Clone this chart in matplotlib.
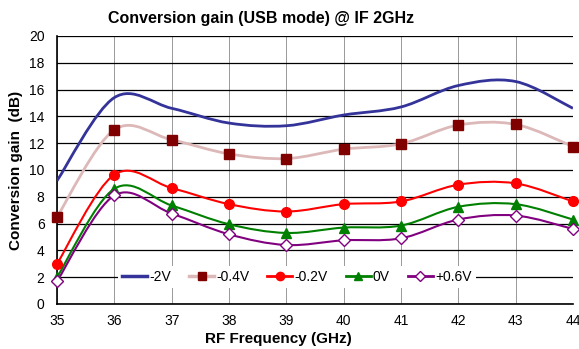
import matplotlib
matplotlib.use('Agg')
import matplotlib.pyplot as plt
from matplotlib.path import Path
from matplotlib.patches import PathPatch
from matplotlib.lines import Line2D
import numpy as np

plt.rcParams['font.family'] = ['Liberation Sans', 'DejaVu Sans']

freq = [35, 36, 37, 38, 39, 40, 41, 42, 43, 44]
gain_m2v = [9.2, 15.4, 14.6, 13.5, 13.3, 14.1, 14.7, 16.3, 16.6, 14.6]
gain_m04v = [6.5, 13.0, 12.25, 11.2, 10.85, 11.55, 11.95, 13.35, 13.4, 11.75]
gain_m02v = [3.0, 9.65, 8.65, 7.45, 6.9, 7.45, 7.65, 8.9, 9.0, 7.65]
gain_0v = [2.0, 8.6, 7.35, 5.95, 5.3, 5.7, 5.85, 7.25, 7.45, 6.3]
gain_p06v = [1.7, 8.1, 6.75, 5.2, 4.4, 4.75, 4.9, 6.3, 6.6, 5.6]
labels = ['-2V', '-0.4V', '-0.2V', '0V', '+0.6V']


def smooth_path(x, y):
    # Excel-like smoothed line: cubic Bezier segments through every point
    x = np.asarray(x, float)
    y = np.asarray(y, float)
    n = len(x)
    verts = [(x[0], y[0])]
    codes = [Path.MOVETO]
    for i in range(n - 1):
        p0 = np.array([x[max(i - 1, 0)], y[max(i - 1, 0)]])
        p1 = np.array([x[i], y[i]])
        p2 = np.array([x[i + 1], y[i + 1]])
        p3 = np.array([x[min(i + 2, n - 1)], y[min(i + 2, n - 1)]])
        c1 = p1 + (p2 - p0) / 6.0
        c2 = p2 - (p3 - p1) / 6.0
        verts += [tuple(c1), tuple(c2), tuple(p2)]
        codes += [Path.CURVE4] * 3
    return Path(verts, codes)


fig = plt.figure(figsize=(5.79, 3.49), dpi=100)
ax = fig.add_axes([0.0985, 0.129, 0.891, 0.768])

styles = [
    dict(color='#333399', lw=2.0, marker=None, mfc=None, mec=None, ms=0),
    dict(color='#DDB8B8', lw=2.0, marker='s', mfc='#800000', mec='#800000', ms=7),
    dict(color='#FF0000', lw=1.5, marker='o', mfc='#FF0000', mec='#FF0000', ms=7),
    dict(color='#008000', lw=1.5, marker='^', mfc='#008000', mec='#008000', ms=7),
    dict(color='#800080', lw=1.5, marker='D', mfc='white', mec='#800080', ms=6),
]
series = [gain_m2v, gain_m04v, gain_m02v, gain_0v, gain_p06v]

handles = []
for vals, st, lab in zip(series, styles, labels):
    patch = PathPatch(smooth_path(freq, vals), fill=False, edgecolor=st['color'],
                      lw=st['lw'], zorder=3, clip_on=True)
    ax.add_patch(patch)
    if st['marker']:
        ax.plot(freq, vals, ls='none', marker=st['marker'], ms=st['ms'],
                mfc=st['mfc'], mec=st['mec'], mew=1.0, zorder=4, clip_on=False)
    handles.append(Line2D([], [], color=st['color'], lw=st['lw'] + 0.5,
                          marker=st['marker'] or None, ms=st['ms'] - 1,
                          mfc=st['mfc'], mec=st['mec']))

ax.set_xlim(35, 44)
ax.set_ylim(0, 20)
ax.set_xticks(freq)
ax.set_yticks(range(0, 21, 2))
ax.grid(axis='y', color='black', lw=0.9)
ax.grid(axis='x', color='#999999', lw=0.7)
ax.set_axisbelow(True)
ax.tick_params(labelsize=10, length=0)
ax.tick_params(axis='x', pad=7)
ax.tick_params(axis='y', pad=9)
for s in ['top', 'right']:
    ax.spines[s].set_visible(False)
ax.spines['left'].set_lw(1.2)
ax.spines['bottom'].set_lw(1.2)

fig.text(0.451, 0.948, 'Conversion gain (USB mode) @ IF 2GHz', fontsize=11.5,
         fontweight='bold', ha='center', va='center')
ax.set_xlabel('RF Frequency (GHz)', fontsize=11, fontweight='bold')
ax.xaxis.set_label_coords(0.43, -0.105)
ax.set_ylabel('Conversion gain  (dB)', fontsize=11, fontweight='bold', labelpad=4)

leg = ax.legend(handles, labels, loc='center', bbox_to_anchor=(0.465, 0.1),
                ncol=5, frameon=True, fontsize=10, handlelength=1.8,
                columnspacing=1.3, handletextpad=0.15, borderpad=0.3)
leg.get_frame().set_edgecolor('none')
leg.get_frame().set_facecolor('white')
leg.get_frame().set_alpha(1)
leg.set_zorder(5)

fig.savefig('out.png', dpi=100)
